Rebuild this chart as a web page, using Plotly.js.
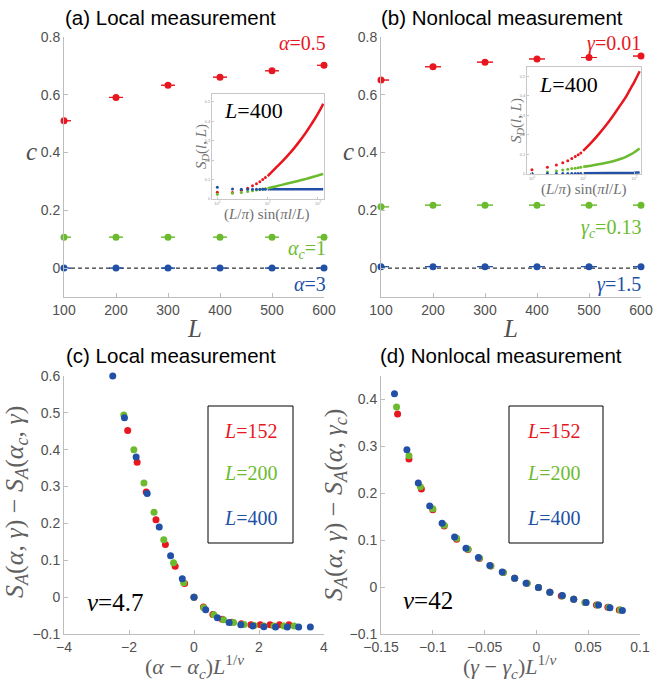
<!DOCTYPE html>
<html><head><meta charset="utf-8">
<script src="https://cdn.plot.ly/plotly-3.0.1.min.js"></script>
<style>html,body{margin:0;padding:0;background:#fff}#chart{width:653px;height:681px}</style>
</head><body><div id="chart"></div>
<script>
// ---------- data ----------
const sizesL = [100, 200, 300, 400, 500, 600];
// panel (a) local measurement, central charge c
const cLocalAlpha05 = [0.510, 0.591, 0.633, 0.661, 0.683, 0.702];
const cLocalAlphaC  = [0.107, 0.107, 0.107, 0.107, 0.107, 0.107];
const cLocalAlpha3  = [0.000, 0.000, 0.000, 0.000, 0.000, 0.000];
// panel (b) nonlocal measurement
const cNonlocGamma001 = [0.651, 0.697, 0.713, 0.724, 0.729, 0.734];
const cNonlocGammaC   = [0.212, 0.218, 0.218, 0.218, 0.218, 0.218];
const cNonlocGamma15  = [0.005, 0.005, 0.005, 0.005, 0.005, 0.005];
const cError = [0, 0, 0, 0, 0, 0];
const dashedZero = [0, 0, 0, 0, 0, 0];

// insets: S_D(l,L) vs (L/pi) sin(pi l/L), L=400
const insetXSparse = [1, 2, 3, 4, 5, 6, 7, 8, 9];
const insetXDense  = [10, 15, 20, 30, 40, 55, 70, 85, 100, 115, 127];
const insA_redS   = [0.035, 0.034, 0.045, 0.055, 0.068, 0.079, 0.089, 0.100, 0.110];
const insA_redD   = [0.118, 0.164, 0.196, 0.246, 0.286, 0.334, 0.375, 0.409, 0.439, 0.467, 0.490];
const insA_greenS = [0.024, 0.029, 0.034, 0.038, 0.042, 0.046, 0.049, 0.051, 0.053];
const insA_greenD = [0.055, 0.066, 0.074, 0.085, 0.093, 0.102, 0.109, 0.116, 0.121, 0.126, 0.129];
const insA_blueS  = [0.060, 0.052, 0.050, 0.050, 0.050, 0.050, 0.050, 0.050, 0.050];
const insA_blueD  = [0.050, 0.050, 0.050, 0.050, 0.050, 0.050, 0.050, 0.050, 0.050, 0.050, 0.050];
const insB_redS   = [0.022, 0.034, 0.046, 0.058, 0.068, 0.079, 0.089, 0.099, 0.108];
const insB_redD   = [0.118, 0.166, 0.203, 0.260, 0.305, 0.358, 0.399, 0.439, 0.472, 0.503, 0.526];
const insB_greenS = [0.003, 0.010, 0.015, 0.020, 0.024, 0.028, 0.030, 0.032, 0.034];
const insB_greenD = [0.037, 0.044, 0.050, 0.059, 0.067, 0.078, 0.089, 0.100, 0.111, 0.123, 0.131];
const insB_blueS  = [0.003, 0.003, 0.003, 0.003, 0.003, 0.003, 0.003, 0.003, 0.003];
const insB_blueD  = [0.004, 0.004, 0.005, 0.005, 0.005, 0.006, 0.006, 0.007, 0.007, 0.008, 0.008];

// panel (c) scaling collapse, local, nu=4.7
const cX_L152 = [-2.04, -1.75, -1.47, -1.17, -0.88, -0.58, -0.29, 0.00, 0.29, 0.58, 0.87, 1.17, 1.46, 1.75, 2.04, 2.34, 2.63, 2.92];
const cY_L152 = [0.452, 0.366, 0.285, 0.210, 0.143, 0.084, 0.037, 0.000, -0.027, -0.047, -0.060, -0.068, -0.072, -0.075, -0.075, -0.075, -0.075, -0.075];
const cX_L200 = [-2.16, -1.85, -1.54, -1.23, -0.93, -0.63, -0.32, 0.00, 0.30, 0.61, 0.91, 1.22, 1.54, 1.85, 2.15, 2.46, 2.77, 3.08];
const cY_L200 = [0.494, 0.400, 0.310, 0.230, 0.156, 0.093, 0.039, 0.000, -0.029, -0.048, -0.061, -0.069, -0.074, -0.077, -0.078, -0.078, -0.078, -0.078];
const cX_L400 = [-2.50, -2.14, -1.78, -1.44, -1.07, -0.72, -0.36, 0.00, 0.36, 0.72, 1.08, 1.44, 1.81, 2.15, 2.51, 2.87, 3.22, 3.58];
const cY_L400 = [0.600, 0.487, 0.380, 0.281, 0.190, 0.112, 0.050, 0.000, -0.034, -0.056, -0.069, -0.075, -0.078, -0.080, -0.081, -0.081, -0.081, -0.081];

// panel (d) scaling collapse, nonlocal, nu=42
const dX_L152 = [-0.134, -0.123, -0.111, -0.100, -0.089, -0.077, -0.066, -0.055, -0.044, -0.032, -0.021, -0.009, 0.002, 0.013, 0.024, 0.036, 0.047, 0.058, 0.069, 0.080];
const dY_L152 = [0.369, 0.273, 0.209, 0.165, 0.130, 0.102, 0.080, 0.061, 0.045, 0.031, 0.019, 0.008, -0.001, -0.011, -0.019, -0.026, -0.033, -0.038, -0.043, -0.049];
const dX_L200 = [-0.135, -0.123, -0.112, -0.100, -0.089, -0.077, -0.066, -0.055, -0.044, -0.032, -0.021, -0.009, 0.002, 0.013, 0.025, 0.036, 0.047, 0.059, 0.070, 0.081];
const dY_L200 = [0.384, 0.280, 0.214, 0.167, 0.132, 0.104, 0.081, 0.062, 0.045, 0.031, 0.019, 0.008, -0.001, -0.011, -0.019, -0.026, -0.033, -0.038, -0.043, -0.049];
const dX_L400 = [-0.137, -0.125, -0.114, -0.103, -0.091, -0.079, -0.068, -0.056, -0.045, -0.033, -0.021, -0.010, 0.002, 0.013, 0.025, 0.036, 0.048, 0.060, 0.071, 0.083];
const dY_L400 = [0.412, 0.293, 0.222, 0.173, 0.136, 0.107, 0.083, 0.063, 0.046, 0.032, 0.019, 0.008, -0.001, -0.011, -0.018, -0.026, -0.033, -0.038, -0.044, -0.050];

// ---------- styling ----------
const RED = '#e8161e', GREEN = '#6cbb2f', BLUE = '#2150a6';
const W = 653, H = 681;
const px = v => v / W, py = v => 1 - v / H;
const SERIF = 'Liberation Serif, Times New Roman, serif';
const SANS = 'Liberation Sans, Arial, sans-serif';

function pts(x, y, color, xa, ya, size, extra) {
  return Object.assign({x: x, y: y, xaxis: xa, yaxis: ya, type: 'scatter', mode: 'markers',
    marker: {color: color, size: size}, cliponaxis: false, showlegend: false, hoverinfo: 'skip'}, extra || {});
}
function errPts(x, y, color, xa, ya, capw) {
  return pts(x, y, color, xa, ya, 7, {error_y: {type: 'data', array: cError, visible: true, color: color, thickness: 1, width: capw}});
}
function line(x, y, color, xa, ya, w, dash, shape) {
  return {x: x, y: y, xaxis: xa, yaxis: ya, type: 'scatter', mode: 'lines',
    line: {color: color, width: w, dash: dash || 'solid', shape: shape || 'linear', smoothing: 0.6},
    cliponaxis: false, showlegend: false, hoverinfo: 'skip'};
}

const traces = [
  line(sizesL, dashedZero, '#000', 'x', 'y', 1, '4px,3px'),
  errPts(sizesL, cLocalAlpha05, RED, 'x', 'y', 7),
  errPts(sizesL, cLocalAlphaC, GREEN, 'x', 'y', 7),
  errPts(sizesL, cLocalAlpha3, BLUE, 'x', 'y', 7),
  line(sizesL, dashedZero, '#000', 'x2', 'y2', 1, '4px,3px'),
  errPts(sizesL, cNonlocGamma001, RED, 'x2', 'y2', 8),
  errPts(sizesL, cNonlocGammaC, GREEN, 'x2', 'y2', 8),
  errPts(sizesL, cNonlocGamma15, BLUE, 'x2', 'y2', 8),
  pts(cX_L152, cY_L152, RED, 'x3', 'y3', 7),
  pts(cX_L200, cY_L200, GREEN, 'x3', 'y3', 7),
  pts(cX_L400, cY_L400, BLUE, 'x3', 'y3', 7),
  pts(dX_L152, dY_L152, RED, 'x4', 'y4', 7),
  pts(dX_L200, dY_L200, GREEN, 'x4', 'y4', 7),
  pts(dX_L400, dY_L400, BLUE, 'x4', 'y4', 7),
  // inset a
  pts(insetXSparse, insA_redS, RED, 'x5', 'y5', 3),
  pts(insetXSparse, insA_greenS, GREEN, 'x5', 'y5', 3),
  pts(insetXSparse, insA_blueS, BLUE, 'x5', 'y5', 3),
  line(insetXDense, insA_blueD, BLUE, 'x5', 'y5', 2.5),
  line(insetXDense, insA_greenD, GREEN, 'x5', 'y5', 2.5, null, 'spline'),
  line(insetXDense, insA_redD, RED, 'x5', 'y5', 2.5, null, 'spline'),
  // inset b
  pts(insetXSparse, insB_redS, RED, 'x6', 'y6', 3),
  pts(insetXSparse, insB_greenS, GREEN, 'x6', 'y6', 3),
  pts(insetXSparse, insB_blueS, BLUE, 'x6', 'y6', 3),
  line(insetXDense, insB_blueD, BLUE, 'x6', 'y6', 2.5),
  line(insetXDense, insB_greenD, GREEN, 'x6', 'y6', 2.5, null, 'spline'),
  line(insetXDense, insB_redD, RED, 'x6', 'y6', 2.5, null, 'spline')
];

const axBase = {showline: true, linecolor: '#bdbdbd', linewidth: 1, ticks: 'inside', ticklen: 4, tickcolor: '#bdbdbd',
  showgrid: false, zeroline: false, tickfont: {family: SANS, size: 14, color: '#505050'}, fixedrange: true};
const ax = o => Object.assign({}, axBase, o);
const inBase = {showline: true, mirror: true, linecolor: '#c8c8c8', linewidth: 1, ticks: 'inside', ticklen: 2, tickcolor: '#c8c8c8',
  showgrid: false, zeroline: false, tickfont: {family: SANS, size: 4, color: '#999'}, fixedrange: true};
const inax = o => Object.assign({}, inBase, o);

const ann = (x, y, text, size, color, opts) => Object.assign({xref: 'paper', yref: 'paper', x: px(x), y: py(y), text: text,
  showarrow: false, font: {family: SERIF, size: size, color: color}, xanchor: 'center', yanchor: 'middle'}, opts || {});
const TITLEFONT = {family: SANS, size: 20.5, color: '#000'};

const annotations = [
  ann(170, 18, '(a) Local measurement', 20, '#000', {font: TITLEFONT}),
  ann(502, 18, '(b) Nonlocal measurement', 20, '#000', {font: TITLEFONT}),
  ann(171, 356, '(c) Local measurement', 20, '#000', {font: TITLEFONT}),
  ann(501, 356, '(d) Nonlocal measurement', 20, '#000', {font: TITLEFONT}),
  ann(31, 152, '<i>c</i>', 25, '#505050'),
  ann(348, 152, '<i>c</i>', 25, '#505050'),
  ann(194, 328, '<i>L</i>', 25, '#505050'),
  ann(510, 328, '<i>L</i>', 25, '#505050'),
  ann(328, 43, '<i>α</i>=0.5', 20, RED, {xanchor: 'right'}),
  ann(328, 250, '<i>α</i><sub><i>c</i></sub>=1', 20, GREEN, {xanchor: 'right'}),
  ann(328, 284, '<i>α</i>=3', 20, BLUE, {xanchor: 'right'}),
  ann(643, 43, '<i>γ</i>=0.01', 20, RED, {xanchor: 'right'}),
  ann(643, 229, '<i>γ</i><sub><i>c</i></sub>=0.13', 20, GREEN, {xanchor: 'right'}),
  ann(643, 284, '<i>γ</i>=1.5', 20, BLUE, {xanchor: 'right'}),
  // insets
  ann(222, 110, '<i>L</i>=400', 22, '#000', {xanchor: 'left'}),
  ann(537, 85, '<i>L</i>=400', 22, '#000', {xanchor: 'left'}),
  ann(202, 147, '<i>S</i><sub><i>D</i></sub>(<i>l</i>, <i>L</i>)', 15, '#707070', {textangle: -90}),
  ann(517, 121, '<i>S</i><sub><i>D</i></sub>(<i>l</i>, <i>L</i>)', 15, '#707070', {textangle: -90}),
  ann(266, 214, '(<i>L</i>/<i>π</i>) sin(<i>πl</i>/<i>L</i>)', 15, '#707070'),
  ann(583, 190, '(<i>L</i>/<i>π</i>) sin(<i>πl</i>/<i>L</i>)', 15, '#707070'),
  // collapse panels
  ann(16, 502, '<i>S</i><sub><i>A</i></sub>(<i>α</i>, <i>γ</i>) − <i>S</i><sub><i>A</i></sub>(<i>α</i><sub><i>c</i></sub>, <i>γ</i>)', 26, '#606060', {textangle: -90}),
  ann(335, 505, '<i>S</i><sub><i>A</i></sub>(<i>α</i>, <i>γ</i>) − <i>S</i><sub><i>A</i></sub>(<i>α</i>, <i>γ</i><sub><i>c</i></sub>)', 26, '#606060', {textangle: -90}),
  ann(194, 666, '(<i>α</i> − <i>α</i><sub><i>c</i></sub>)<i>L</i><sup>1/<i>ν</i></sup>', 22, '#606060'),
  ann(510, 666, '(<i>γ</i> − <i>γ</i><sub><i>c</i></sub>)<i>L</i><sup>1/<i>ν</i></sup>', 22, '#606060'),
  ann(250, 431, '<i>L</i>=152', 20, RED),
  ann(250, 473, '<i>L</i>=200', 20, GREEN),
  ann(250, 518, '<i>L</i>=400', 20, BLUE),
  ann(553, 431, '<i>L</i>=152', 20, RED),
  ann(553, 473, '<i>L</i>=200', 20, GREEN),
  ann(553, 518, '<i>L</i>=400', 20, BLUE),
  ann(85, 602, '<i>ν</i>=4.7', 25, '#000', {xanchor: 'left'}),
  ann(401, 600, '<i>ν</i>=42', 25, '#000', {xanchor: 'left'})
];

const shapes = [
  {type: 'rect', xref: 'paper', yref: 'paper', x0: px(208), x1: px(293), y0: py(406), y1: py(543), line: {color: '#000', width: 1}},
  {type: 'rect', xref: 'paper', yref: 'paper', x0: px(509), x1: px(603), y0: py(406), y1: py(543), line: {color: '#000', width: 1}}
];

const logTicks = {tickvals: [1, 10, 100], ticktext: ['10<sup>0</sup>', '10<sup>1</sup>', '10<sup>2</sup>']};

const layout = {
  width: W, height: H, margin: {l: 0, r: 0, t: 0, b: 0}, paper_bgcolor: '#fff', plot_bgcolor: 'rgba(0,0,0,0)',
  showlegend: false,
  xaxis: ax({domain: [px(64), px(324)], range: [100, 600], tickvals: sizesL, anchor: 'y'}),
  yaxis: ax({domain: [py(297), py(37)], range: [-0.1, 0.8], tickvals: [0, 0.2, 0.4, 0.6, 0.8], anchor: 'x'}),
  xaxis2: ax({domain: [px(381), px(641)], range: [100, 600], tickvals: sizesL, anchor: 'y2'}),
  yaxis2: ax({domain: [py(297), py(37)], range: [-0.1, 0.8], tickvals: [0, 0.2, 0.4, 0.6, 0.8], anchor: 'x2'}),
  xaxis3: ax({domain: [px(64), px(324)], range: [-4, 4], tickvals: [-4, -2, 0, 2, 4], anchor: 'y3'}),
  yaxis3: ax({domain: [py(634), py(376)], range: [-0.1, 0.6], tickvals: [-0.1, 0, 0.1, 0.2, 0.3, 0.4, 0.5, 0.6], anchor: 'x3'}),
  xaxis4: ax({domain: [px(381), px(640)], range: [-0.15, 0.1], tickvals: [-0.15, -0.1, -0.05, 0, 0.05, 0.1], anchor: 'y4'}),
  yaxis4: ax({domain: [py(634), py(376)], range: [-0.1, 0.45], tickvals: [-0.1, 0, 0.1, 0.2, 0.3, 0.4], anchor: 'x4'}),
  xaxis5: inax(Object.assign({domain: [px(212), px(324)], type: 'log', range: [-0.106, 2.12], anchor: 'y5'}, logTicks)),
  yaxis5: inax({domain: [py(199), py(94)], range: [0, 0.54], tickvals: [0, 0.1, 0.2, 0.3, 0.4, 0.5], anchor: 'x5'}),
  xaxis6: inax(Object.assign({domain: [px(527), px(641)], type: 'log', range: [-0.097, 2.13], anchor: 'y6'}, logTicks)),
  yaxis6: inax({domain: [py(174), py(67)], range: [0, 0.548], tickvals: [0, 0.1, 0.2, 0.3, 0.4, 0.5], anchor: 'x6'}),
  annotations: annotations, shapes: shapes
};

Plotly.newPlot('chart', traces, layout, {staticPlot: true, displayModeBar: false});
</script></body></html>
